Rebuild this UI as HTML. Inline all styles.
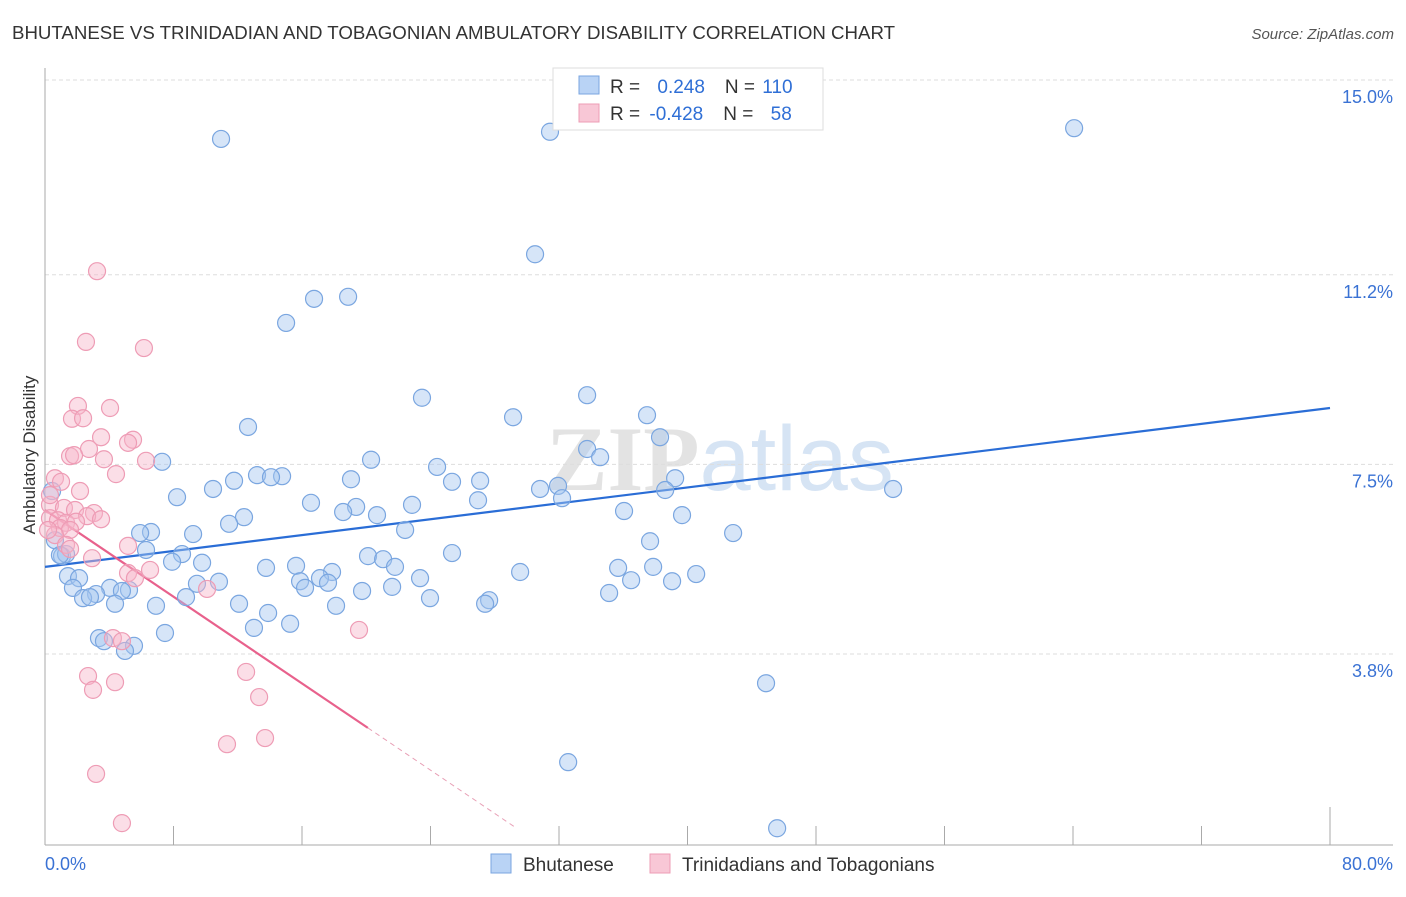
<!DOCTYPE html>
<html><head><meta charset="utf-8"><style>
body{margin:0;background:#fff;font-family:"Liberation Sans",sans-serif;}
svg text{font-family:"Liberation Sans",sans-serif;}
</style></head><body>
<svg id="chart" width="1406" height="892" xmlns="http://www.w3.org/2000/svg">
<text x="12" y="39" font-size="18" fill="#333" textLength="883" lengthAdjust="spacingAndGlyphs">BHUTANESE VS TRINIDADIAN AND TOBAGONIAN AMBULATORY DISABILITY CORRELATION CHART</text>
<text x="1394" y="39" font-size="15" fill="#555" font-style="italic" text-anchor="end">Source: ZipAtlas.com</text>
<text x="720" y="490" font-size="92" fill="#e6e6e6" text-anchor="middle" font-weight="bold"><tspan fill="#e3e3e3" font-family="Liberation Serif">ZIP</tspan><tspan fill="#d6e4f4" font-weight="normal">atlas</tspan></text>
<g id="grid"></g>
<g id="axes"></g>
<g id="trends"></g>
<g id="pts"></g>
<text x="35" y="455" font-size="17" fill="#333" text-anchor="middle" transform="rotate(-90 35 455)">Ambulatory Disability</text>
<g>
<rect x="553" y="68" width="270" height="62" fill="#fff" stroke="#ddd"/>
<rect x="579" y="76" width="20" height="18" fill="#b9d3f5" stroke="#7aa6e0"/>
<rect x="579" y="104" width="20" height="18" fill="#f8c7d6" stroke="#ee9cb5"/>
<text x="610" y="93" font-size="19" fill="#333">R = <tspan fill="#2f6fd6" dx="12">0.248</tspan><tspan dx="20" fill="#333">N = </tspan><tspan fill="#2f6fd6" dx="2">110</tspan></text>
<text x="610" y="120" font-size="19" fill="#333">R = <tspan fill="#2f6fd6" dx="4">-0.428</tspan><tspan dx="20" fill="#333">N = </tspan><tspan fill="#2f6fd6" dx="12">58</tspan></text>
</g>
<g>
<rect x="491" y="854" width="20" height="19" fill="#b9d3f5" stroke="#7aa6e0"/>
<text x="523" y="871" font-size="19" fill="#333">Bhutanese</text>
<rect x="650" y="854" width="20" height="19" fill="#f8c7d6" stroke="#ee9cb5"/>
<text x="682" y="871" font-size="19" fill="#333">Trinidadians and Tobagonians</text>
</g>
</svg>
<script>
const yTicks=[15.0,11.2,7.5,3.8];
const yTickLabels=["15.0%","11.2%","7.5%","3.8%"];
const xTickCount=10;
const xEndLabels=["0.0%","80.0%"];
const blueX=[10.96,31.44,64.07,30.51,16.75,18.87,15.01,33.75,23.47,29.14,37.48,12.64,38.29,33.75,34.56,7.29,20.30,24.41,13.20,14.76,14.07,11.77,19.05,27.09,25.34,39.23,31.94,10.46,8.22,30.82,38.61,52.80,16.56,19.37,32.19,26.96,22.85,18.56,20.67,36.05,12.39,11.46,39.66,22.42,6.60,5.92,9.22,42.84,37.67,6.29,8.53,25.34,20.11,21.05,1.06,1.31,7.91,9.78,21.79,13.76,15.63,29.58,35.68,37.86,40.54,1.43,2.12,17.87,17.12,23.35,15.88,17.62,9.46,10.83,19.74,21.61,1.74,4.05,5.23,16.19,8.78,4.79,35.12,39.04,36.49,3.18,2.37,2.80,23.97,27.65,27.40,6.91,12.08,4.36,18.12,13.89,15.26,13.01,7.47,3.36,3.67,5.54,4.98,44.89,32.57,45.58,0.44,0.62,0.93];
const blueY=[13.85,13.99,14.06,11.60,10.73,10.77,10.26,8.85,8.80,8.42,8.46,8.23,8.03,7.80,7.64,7.55,7.59,7.45,7.29,7.27,7.25,7.18,7.21,7.18,7.16,7.23,7.08,7.02,6.86,7.02,7.00,7.02,6.75,6.67,6.84,6.80,6.71,6.57,6.51,6.59,6.47,6.34,6.51,6.22,6.18,6.16,6.14,6.16,6.00,5.83,5.75,5.77,5.71,5.65,5.71,5.75,5.60,5.58,5.50,5.48,5.52,5.40,5.48,5.50,5.36,5.32,5.28,5.40,5.28,5.28,5.22,5.19,5.17,5.21,5.03,5.11,5.09,5.09,5.05,5.09,4.91,5.03,4.99,5.22,5.24,4.97,4.89,4.91,4.89,4.85,4.78,4.74,4.78,4.78,4.74,4.60,4.39,4.31,4.21,4.11,4.05,3.96,3.86,3.23,1.69,0.40,6.98,6.02,5.73];
const pinkX=[3.24,2.55,6.16,4.05,2.05,1.68,2.37,3.49,5.48,5.17,2.74,1.56,1.81,3.67,6.29,4.42,0.62,1.00,2.18,0.31,1.18,1.87,3.05,2.62,3.49,0.31,0.81,1.31,1.93,0.93,1.56,0.62,1.31,5.17,1.56,2.93,5.17,5.60,6.54,10.09,19.55,4.23,4.79,2.68,2.99,4.36,12.52,13.33,11.33,13.70,3.18,4.79,0.31,0.19];
const pinkY=[11.27,9.89,9.77,8.60,8.64,8.39,8.40,8.03,7.98,7.92,7.80,7.66,7.68,7.60,7.57,7.31,7.23,7.16,6.98,6.71,6.65,6.61,6.55,6.49,6.43,6.45,6.41,6.36,6.38,6.26,6.22,6.12,5.93,5.91,5.85,5.67,5.38,5.28,5.44,5.07,4.27,4.11,4.05,3.37,3.10,3.25,3.45,2.96,2.04,2.16,1.46,0.50,6.90,6.22];
const blueTrend=[5.50,8.60];       // y at x=0 and x=80
const pinkTrend=[6.61,-0.2115];    // intercept, slope
const pinkSolidEnd=20.1, pinkDashEnd=29.2;

const NS="http://www.w3.org/2000/svg";
const X0=45,X1=1330,Y15=80,PX_PER_Y=51.25;
function sx(v){return X0+(X1-X0)*v/80;}
function sy(v){return Y15+(15-v)*PX_PER_Y;}
function mk(tag,attrs,parent){const e=document.createElementNS(NS,tag);for(const k in attrs)e.setAttribute(k,attrs[k]);parent.appendChild(e);return e;}
const grid=document.getElementById('grid'),axes=document.getElementById('axes');
yTicks.forEach((t,i)=>{
  const l=mk('line',{x1:45,x2:1393,y1:sy(t),y2:sy(t),stroke:'#ddd','stroke-dasharray':'4,3'},grid);
  
  
  const tx=mk('text',{x:1393,y:sy(t)+23,'font-size':18,fill:'#3a72d4','text-anchor':'end'},axes);
  tx.textContent=yTickLabels[i];
  
  
});
const ya=mk('line',{x1:45,x2:45,y1:68,y2:845,stroke:'#aaa'},axes);


const xa=mk('line',{x1:45,x2:1393,y1:845,y2:845,stroke:'#aaa'},axes);


for(let k=1;k<=xTickCount;k++){
  const xv=sx(80*k/xTickCount);
  const t=mk('line',{x1:xv,x2:xv,y1:k==xTickCount?807:826,y2:845,stroke:'#aaa'},axes);
  
  
}
const xl0=mk('text',{x:45,y:870,'font-size':18,fill:'#3a72d4'},axes);xl0.textContent=xEndLabels[0];


const xl1=mk('text',{x:1393,y:870,'font-size':18,fill:'#3a72d4','text-anchor':'end'},axes);xl1.textContent=xEndLabels[1];


const pts=document.getElementById('pts');
blueX.forEach((x,i)=>{
  const c=mk('circle',{cx:sx(x),cy:sy(blueY[i]),r:8.5,fill:'rgba(165,198,240,0.45)',stroke:'#7aa6e0','stroke-width':1.2},pts);
  
  
});
pinkX.forEach((x,i)=>{
  const c=mk('circle',{cx:sx(x),cy:sy(pinkY[i]),r:8.5,fill:'rgba(246,182,202,0.45)',stroke:'#ee9cb5','stroke-width':1.2},pts);
  
  
});
const tr=document.getElementById('trends');
const bl=mk('line',{x1:sx(0),y1:sy(blueTrend[0]),x2:sx(80),y2:sy(blueTrend[1]),stroke:'#2a6dd6','stroke-width':2.2},tr);


const pf=x=>pinkTrend[0]+pinkTrend[1]*x;
const pl=mk('line',{x1:sx(0),y1:sy(pf(0)),x2:sx(pinkSolidEnd),y2:sy(pf(pinkSolidEnd)),stroke:'#e8618c','stroke-width':2.2},tr);


const pd=mk('line',{x1:sx(pinkSolidEnd),y1:sy(pf(pinkSolidEnd)),x2:sx(pinkDashEnd),y2:sy(pf(pinkDashEnd)),stroke:'#e8a0b6','stroke-width':1,'stroke-dasharray':'5,4'},tr);


</script>
</body></html>
